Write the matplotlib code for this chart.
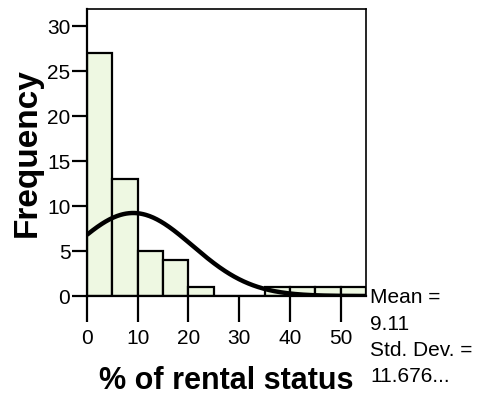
import numpy as np
import matplotlib
matplotlib.use("Agg")
import matplotlib.pyplot as plt

# histogram of % of rental status (bin width 5)
bin_edges = [0, 5, 10, 15, 20, 25, 30, 35, 40, 45, 50, 55]
counts = [27, 13, 5, 4, 1, 0, 0, 1, 1, 1, 1]
mean_val = 9.11
std_val = 11.676
n_total = sum(counts)

plt.rcParams['font.family'] = ['Liberation Sans', 'DejaVu Sans']

fig = plt.figure(figsize=(4.79, 3.98), dpi=100)
ax = fig.add_axes([87/479, 1 - 296/398, (366-87)/479, (296-9)/398])

lefts = bin_edges[:-1]
widths = np.diff(bin_edges)
ax.bar(lefts, counts, width=widths, align='edge', color='#eef8e2',
       edgecolor='black', linewidth=1.6, zorder=2)

# normal curve scaled to counts
xs = np.linspace(0, 55, 300)
ys = n_total * 5 / (std_val * np.sqrt(2 * np.pi)) * np.exp(-0.5 * ((xs - mean_val) / std_val) ** 2)
ax.plot(xs, ys, color='black', lw=3.2, zorder=3, solid_capstyle='butt')

ax.set_xlim(0, 55)
ax.set_ylim(0, 31.9)
ax.set_xticks([0, 10, 20, 30, 40, 50])
ax.set_yticks([0, 5, 10, 15, 20, 25, 30])
ax.tick_params(axis='y', length=11, width=1.6, labelsize=15, pad=1)
ax.tick_params(axis='x', length=19, width=1.6, labelsize=15, pad=5)
for s in ['left', 'bottom']:
    ax.spines[s].set_linewidth(1.6)
for s in ['top', 'right']:
    ax.spines[s].set_linewidth(1.2)

ax.set_ylabel('Frequency', fontsize=24, fontweight='bold', labelpad=3)
ax.set_xlabel('% of rental status', fontsize=22, fontweight='bold', labelpad=13)

fig.text(370/479, 1 - 288/398, 'Mean =\n9.11\nStd. Dev. =\n11.676...',
         fontsize=15, va='top', ha='left', linespacing=1.5)

fig.savefig('out.png', dpi=100)
